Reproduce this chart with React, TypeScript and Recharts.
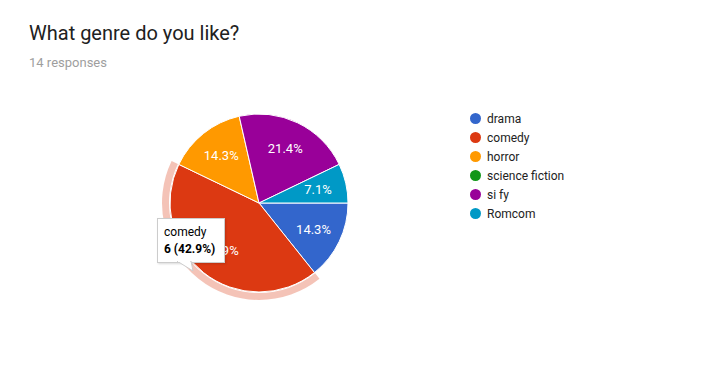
import React from "react";
import { PieChart, Pie, Cell, Tooltip, Sector } from "recharts";

const categories = ["drama", "comedy", "horror", "science fiction", "si fy", "Romcom"];
const counts = [2, 6, 2, 0, 3, 1];
const colors = ["#3366cc", "#dc3912", "#ff9900", "#109618", "#990099", "#0099c6"];

const total = counts.reduce((a, b) => a + b, 0);

const data = categories.map((name, i) => ({ name, value: counts[i], color: colors[i] }));

const FONT = "Roboto, Arial, sans-serif";
const RAD = Math.PI / 180;

const renderLabel = (props: any) => {
  const { cx, cy, midAngle, outerRadius, value } = props;
  if (!value) return null;
  const r = outerRadius * 0.68;
  const x = cx + r * Math.cos(-midAngle * RAD);
  const y = cy + r * Math.sin(-midAngle * RAD);
  return (
    <text x={x} y={y} fill="#ffffff" fontSize={13} fontFamily={FONT} textAnchor="middle" dominantBaseline="central">
      {((value / total) * 100).toFixed(1)}%
    </text>
  );
};

// highlighted slice: pale ring around the outside
const renderActive = (props: any) => {
  const { cx, cy, innerRadius, outerRadius, startAngle, endAngle, fill } = props;
  return (
    <g>
      <Sector cx={cx} cy={cy} innerRadius={outerRadius + 1} outerRadius={outerRadius + 8} startAngle={startAngle} endAngle={endAngle} fill={fill} fillOpacity={0.3} />
      <Sector cx={cx} cy={cy} innerRadius={innerRadius} outerRadius={outerRadius} startAngle={startAngle} endAngle={endAngle} fill={fill} stroke="#ffffff" strokeWidth={1} />
    </g>
  );
};

const TooltipBox = ({ payload }: any) => {
  if (!payload || !payload.length) return null;
  const p = payload[0];
  return (
    <div style={{ position: "relative", fontFamily: FONT, fontSize: 12, color: "#000" }}>
      <div
        style={{
          background: "#fff",
          border: "1px solid #cccccc",
          boxShadow: "1px 1px 2px rgba(0,0,0,0.15)",
          padding: "5px 6px 4px 6px",
          width: 54,
          lineHeight: "17px",
        }}
      >
        <div>{p.name}</div>
        <div style={{ fontWeight: "bold" }}>
          {p.value} ({((p.value / total) * 100).toFixed(1)}%)
        </div>
      </div>
      <svg width={20} height={12} style={{ position: "absolute", left: 20, top: 43 }}>
        <polygon points="0,0 14,0 16,10" fill="#fff" stroke="#cccccc" strokeWidth={1} />
        <line x1={1} y1={0} x2={13} y2={0} stroke="#fff" strokeWidth={2} />
      </svg>
    </div>
  );
};

export default function App() {
  return (
    <div style={{ position: "absolute", left: 0, top: 0, width: 728, height: 383, background: "#fff", overflow: "hidden" }}>
      <div style={{ position: "absolute", left: 29, top: 21, fontFamily: FONT, fontSize: 20, color: "#212121", lineHeight: "24px" }}>
        What genre do you like?
      </div>
      <div style={{ position: "absolute", left: 29, top: 55, fontFamily: FONT, fontSize: 13, color: "#9e9e9e", lineHeight: "16px" }}>
        {total} responses
      </div>
      <div style={{ position: "absolute", left: 470, top: 109, fontFamily: FONT, fontSize: 12, color: "#222" }}>
        {data.map((d) => (
          <div key={d.name} style={{ display: "flex", alignItems: "center", height: 19 }}>
            <span style={{ width: 11, height: 11, borderRadius: "50%", background: d.color, marginRight: 6 }} />
            <span>{d.name}</span>
          </div>
        ))}
      </div>
      <div style={{ position: "absolute", left: 0, top: 0 }}>
        <PieChart width={728} height={383} margin={{ top: 0, right: 0, bottom: 0, left: 0 }}>
          <Pie
            data={data}
            dataKey="value"
            nameKey="name"
            cx={259}
            cy={203}
            outerRadius={89}
            startAngle={0}
            endAngle={-360}
            stroke="#ffffff"
            strokeWidth={1}
            label={renderLabel}
            labelLine={false}
            activeShape={renderActive}
            isAnimationActive={false}
          >
            {data.map((d) => (
              <Cell key={d.name} fill={d.color} />
            ))}
          </Pie>
          <Tooltip
            defaultIndex={1}
            active
            content={<TooltipBox />}
            position={{ x: 157, y: 218 }}
            isAnimationActive={false}
            wrapperStyle={{ outline: "none" }}
          />
        </PieChart>
      </div>
    </div>
  );
}
